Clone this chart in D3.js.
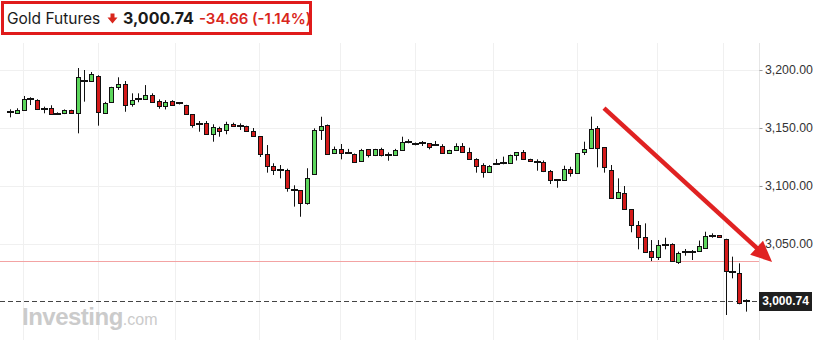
<!DOCTYPE html>
<html><head><meta charset="utf-8">
<script src="https://cdn.jsdelivr.net/npm/d3@7"></script>
<style>html,body{margin:0;padding:0;background:#fff;}svg{display:block;}</style>
</head><body>
<svg id="chart" width="817" height="340"></svg>
<script>
// ---- data (Gold Futures, OHLC) ----
const opens = [3163.2,3162.7,3165.5,3174.5,3173.9,3166.4,3167.0,3162.7,3162.7,3165.2,
3162.7,3190.6,3190.5,3194.8,3163.5,3172.2,3185.1,3187.7,3170.4,3174.6,
3174.7,3178.2,3173.0,3168.7,3173.3,3171.2,3169.6,3161.8,3153.5,3154.0,
3144.8,3149.7,3148.0,3153.2,3151.3,3151.5,3147.4,3142.8,3127.3,3117.0,
3113.6,3113.8,3096.4,3096.3,3085.1,3110.0,3148.3,3152.6,3128.2,3131.9,
3128.5,3127.8,3121.3,3131.6,3126.3,3131.6,3126.5,3127.0,3131.0,3137.5,
3136.3,3136.6,3136.8,3135.1,3134.2,3128.4,3130.8,3134.5,3129.0,3123.0,
3118.1,3112.3,3119.0,3119.9,3119.6,3126.5,3129.0,3123.0,3120.8,3120.4,
3112.7,3104.7,3104.9,3114.4,3111.0,3129.0,3132.5,3149.7,3133.4,3113.8,
3089.4,3093.7,3079.9,3066.1,3055.8,3044.0,3039.1,3048.9,3049.7,3034.8,
3043.2,3043.3,3044.2,3046.8,3056.7,3057.5,3054.3,3026.0,3024.7,3000.6];
const highs = [3166.1,3167.0,3177.6,3176.5,3174.8,3168.4,3169.6,3163.5,3166.0,3165.8,
3201.7,3200.0,3198.3,3195.5,3172.5,3185.5,3193.7,3190.5,3179.9,3179.9,
3187.0,3179.9,3174.7,3174.0,3174.0,3172.0,3170.0,3162.0,3156.0,3156.0,
3153.2,3151.1,3155.4,3154.6,3154.0,3152.0,3150.0,3143.0,3135.3,3119.6,
3118.1,3114.9,3100.6,3096.5,3115.3,3149.7,3159.7,3153.0,3134.0,3136.2,
3132.0,3128.0,3132.0,3131.8,3132.0,3133.0,3129.0,3132.0,3142.5,3140.3,
3137.5,3138.8,3137.0,3138.8,3136.0,3131.2,3136.8,3137.0,3133.0,3123.9,
3119.6,3118.0,3123.3,3125.3,3127.0,3129.2,3131.0,3123.5,3123.0,3122.0,
3113.8,3106.0,3117.5,3116.6,3128.4,3138.2,3159.8,3151.7,3133.6,3118.1,
3106.6,3100.0,3080.1,3069.8,3067.8,3053.4,3053.4,3055.4,3050.6,3043.4,
3045.7,3044.8,3053.0,3060.6,3059.2,3057.7,3054.5,3039.1,3033.3,3002.3];
const lows = [3159.2,3162.5,3165.0,3169.8,3165.5,3162.7,3161.5,3161.8,3162.0,3162.5,
3145.4,3172.7,3190.3,3152.0,3163.0,3171.8,3182.8,3164.0,3168.4,3172.2,
3174.5,3171.8,3166.6,3166.0,3169.0,3170.3,3161.5,3150.3,3146.8,3144.4,
3138.2,3142.5,3144.6,3151.3,3148.3,3146.8,3142.6,3125.0,3111.5,3109.5,
3106.6,3095.1,3082.2,3073.5,3083.9,3109.5,3139.7,3127.0,3128.0,3123.0,
3128.0,3121.0,3121.0,3124.6,3125.8,3125.5,3121.8,3126.8,3130.8,3136.8,
3135.0,3134.5,3131.6,3134.5,3128.2,3127.8,3130.6,3128.8,3122.5,3111.5,
3107.2,3111.5,3118.1,3118.7,3119.4,3122.0,3122.8,3120.8,3113.2,3112.0,
3101.7,3098.5,3104.7,3108.1,3110.8,3126.7,3132.3,3116.1,3111.5,3089.2,
3089.2,3079.7,3060.1,3045.4,3042.3,3035.3,3036.2,3045.4,3034.6,3032.8,
3039.9,3036.2,3044.0,3046.6,3055.4,3055.6,2988.8,3020.4,2998.0,2991.7];
const closes = [3163.4,3165.5,3174.7,3174.9,3166.1,3166.8,3161.8,3162.5,3165.2,3162.7,
3193.7,3190.9,3196.3,3163.5,3171.8,3185.1,3187.9,3169.8,3173.9,3174.8,
3178.4,3172.2,3168.4,3172.2,3169.6,3171.4,3161.8,3152.3,3153.2,3144.6,
3150.6,3147.2,3153.2,3151.5,3151.5,3147.2,3142.8,3127.3,3117.0,3113.5,
3113.8,3098.0,3096.6,3085.1,3106.6,3148.3,3151.7,3127.6,3131.9,3128.7,
3128.7,3121.3,3131.0,3126.5,3131.6,3126.0,3126.7,3131.0,3137.7,3137.7,
3136.5,3136.8,3133.4,3135.3,3128.4,3131.0,3134.2,3129.0,3122.7,3116.6,
3111.8,3117.2,3119.2,3120.1,3126.7,3129.0,3123.0,3121.0,3121.0,3112.3,
3104.6,3104.9,3114.4,3111.0,3128.2,3131.6,3148.9,3132.5,3116.1,3089.4,
3094.6,3079.9,3065.8,3055.8,3042.5,3039.1,3049.1,3049.1,3034.8,3042.5,
3043.4,3043.4,3048.3,3056.9,3056.9,3055.8,3027.0,3026.1,2998.9,3000.74];
const yTicks = [3200, 3150, 3100, 3050];
const gridIdx = [1.93, 13.04, 24.4, 36.9, 48.9, 60, 71.6, 84, 95.9, 105.6];
const lastPrice = 3000.74;
const prevClose = 3035.40;
const change = -34.66;
const changePct = -1.14;
const title = "Gold Futures";
// annotation arrow, in (candle index, price)
const arrowFrom = [88, 3167.2];
const arrowTo = [112.9, 3034.5];

// ---- drawing ----
const svg = d3.select("#chart");
const W = 817, H = 340, plotRight = 759.5, plotTop = 43;
const x = d3.scaleLinear().domain([0, 109]).range([10, 745.75]);
const y = d3.scaleLinear().domain([3000, 3200]).range([302, 70]);
const fmt = d3.format(",.2f");
const fmtSigned = v => d3.format(".2f")(v).replace("\u2212", "-");
const crisp = v => Math.round(v) + 0.5;

// gridlines
svg.append("g").selectAll("line").data(yTicks).join("line")
  .attr("x1", 0).attr("x2", plotRight).attr("y1", d => crisp(y(d))).attr("y2", d => crisp(y(d)))
  .attr("stroke", "#f0f0f0");
svg.append("g").selectAll("line").data(gridIdx).join("line")
  .attr("x1", d => crisp(x(d))).attr("x2", d => crisp(x(d))).attr("y1", plotTop).attr("y2", H)
  .attr("stroke", "#f0f0f0");

// previous close line
svg.append("line").attr("x1", 0).attr("x2", plotRight)
  .attr("y1", crisp(y(prevClose))).attr("y2", crisp(y(prevClose)))
  .attr("stroke", "#f3a3a3").attr("stroke-width", 1);

// last price dashed line
svg.append("line").attr("x1", 0).attr("x2", plotRight)
  .attr("y1", crisp(y(lastPrice))).attr("y2", crisp(y(lastPrice)))
  .attr("stroke", "#444").attr("stroke-dasharray", "5,3");

// candles
const data = opens.map((o, i) => ({i, o, h: highs[i], l: lows[i], c: closes[i]}));
const g = svg.append("g");
g.selectAll("line.w").data(data).join("line").attr("class", "w")
  .attr("x1", d => crisp(x(d.i))).attr("x2", d => crisp(x(d.i)))
  .attr("y1", d => y(d.h)).attr("y2", d => y(d.l))
  .attr("stroke", "#111").attr("stroke-width", 1);
data.forEach(d => {
  const cx = crisp(x(d.i));
  if (Math.abs(d.o - d.c) < 1) {
    g.append("rect").attr("x", cx - 3.5).attr("width", 7)
      .attr("y", Math.round(y(d.c)) - 1).attr("height", 2).attr("fill", "#111");
  } else {
    const top = y(Math.max(d.o, d.c)), bot = y(Math.min(d.o, d.c));
    g.append("rect").attr("x", cx - 2).attr("width", 4)
      .attr("y", Math.round(top) + 0.5).attr("height", Math.max(1, Math.round(bot - top)))
      .attr("fill", d.c > d.o ? "#5cd65c" : "#d41a1a")
      .attr("stroke", "#111").attr("stroke-width", 1);
  }
});

// right axis
svg.append("line").attr("x1", plotRight).attr("x2", plotRight).attr("y1", plotTop).attr("y2", H)
  .attr("stroke", "#e6e6e6");
const ax = svg.append("g");
ax.selectAll("line").data(yTicks).join("line")
  .attr("x1", plotRight).attr("x2", plotRight + 3).attr("y1", d => crisp(y(d))).attr("y2", d => crisp(y(d)))
  .attr("stroke", "#999");
ax.selectAll("text").data(yTicks).join("text")
  .attr("x", 765).attr("y", d => y(d)).attr("dy", "0.36em")
  .attr("font-family", "Liberation Sans, Arial, sans-serif").attr("font-size", 12.3)
  .attr("fill", "#333").text(d => fmt(d));

// price label
const py = y(lastPrice);
svg.append("rect").attr("x", 759).attr("y", Math.round(py) - 9).attr("width", 53).attr("height", 19)
  .attr("fill", "#1f1f1f");
svg.append("text").attr("x", 785.5).attr("y", py).attr("dy", "0.36em").attr("text-anchor", "middle")
  .attr("font-family", "Liberation Sans, Arial, sans-serif").attr("font-size", 12).attr("font-weight", "bold")
  .attr("fill", "#fff").text(fmt(lastPrice));

// watermark
const wm = svg.append("text").attr("x", 22).attr("y", 325)
  .attr("font-family", "Liberation Sans, Arial, sans-serif").attr("fill", "#cbcbcb");
wm.append("tspan").attr("font-size", 24).attr("font-weight", "bold").attr("letter-spacing", -0.5).text("Investing");
wm.append("tspan").attr("font-size", 16).attr("font-weight", "normal").text(".com");

// arrow annotation
const ax0 = x(arrowFrom[0]), ay0 = y(arrowFrom[1]), ax1 = x(arrowTo[0]), ay1 = y(arrowTo[1]);
const dx = ax1 - ax0, dy = ay1 - ay0, len = Math.hypot(dx, dy), ux = dx / len, uy = dy / len;
const headL = 21, headW = 9.5;
const bx = ax1 - ux * headL, by = ay1 - uy * headL;
svg.append("line").attr("x1", ax0).attr("y1", ay0).attr("x2", bx + ux * 2).attr("y2", by + uy * 2)
  .attr("stroke", "#e02222").attr("stroke-width", 4.5);
svg.append("path")
  .attr("d", `M${ax1},${ay1}L${bx - uy * headW},${by + ux * headW}L${bx + uy * headW},${by - ux * headW}Z`)
  .attr("fill", "#e02222");

// header box
svg.append("rect").attr("x", 2.5).attr("y", 2.5).attr("width", 308).attr("height", 31)
  .attr("fill", "none").attr("stroke", "#e01b1b").attr("stroke-width", 3);
const hf = "Inter, 'Open Sans', sans-serif";
svg.append("text").attr("x", 7).attr("y", 24).attr("font-family", hf).attr("font-size", 15.5)
  .attr("fill", "#1a1a1a").text(title);
svg.append("path").attr("d", "M110.5,13.5H114.5V17.5H117.5L112.5,23.5L107.5,17.5H110.5Z").attr("fill", "#d9261c");
svg.append("text").attr("x", 123).attr("y", 24).attr("font-family", hf).attr("font-size", 16)
  .attr("font-weight", "bold").attr("fill", "#1a1a1a").text(fmt(lastPrice));
svg.append("text").attr("x", 199).attr("y", 24).attr("font-family", hf).attr("font-size", 15)
  .attr("font-weight", 600).attr("fill", "#d9261c").text(fmtSigned(change));
svg.append("text").attr("x", 252).attr("y", 24).attr("font-family", hf).attr("font-size", 15)
  .attr("font-weight", 600).attr("fill", "#d9261c").text("(" + fmtSigned(changePct) + "%)");
</script>
</body></html>
